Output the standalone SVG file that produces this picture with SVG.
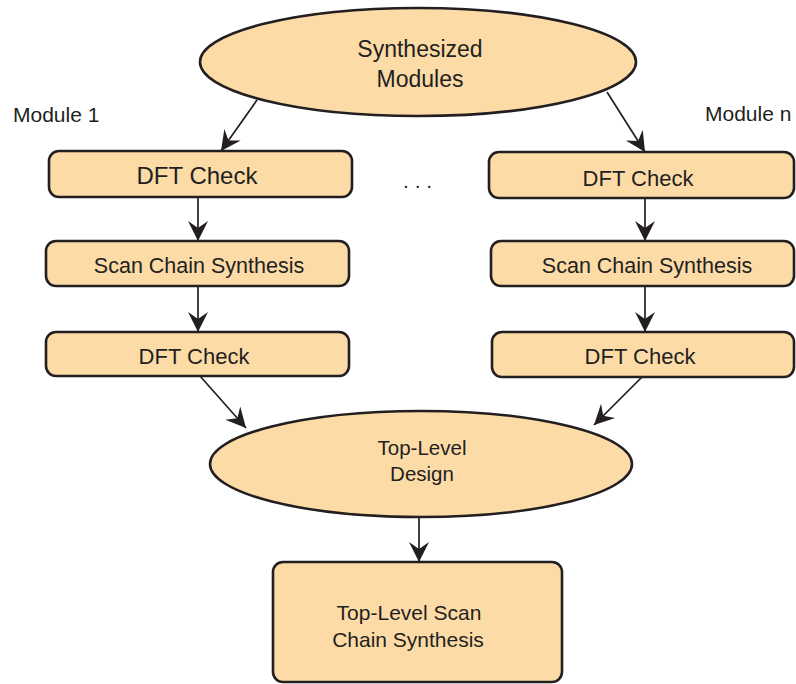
<svg xmlns="http://www.w3.org/2000/svg" width="796" height="684" viewBox="0 0 796 684">
  <style>
    .node { fill: #fcdba7; stroke: #231f20; stroke-width: 2.6; }
    .lbl { font-family: "Liberation Sans", Arial, sans-serif; fill: #231f20; text-anchor: middle; }
    .side { font-family: "Liberation Sans", Arial, sans-serif; fill: #231f20; font-size: 21px; }
    .edge { stroke: #231f20; stroke-width: 1.7; fill: none; marker-end: url(#arrow); }
  </style>
  <defs>
    <marker id="arrow" markerUnits="userSpaceOnUse" viewBox="-21 -11 22 22" refX="0" refY="0" markerWidth="22" markerHeight="22" orient="auto">
      <path d="M0,0 L-20,-10 L-13,0 L-20,10 Z" fill="#231f20"/>
    </marker>
  </defs>

  <rect width="796" height="684" fill="#ffffff"/>

  <!-- connectors -->
  <g id="connectors">
    <line class="edge" x1="257" y1="100" x2="221" y2="151"/>
    <line class="edge" x1="607" y1="92" x2="645" y2="152"/>
    <line class="edge" x1="198" y1="197" x2="198" y2="241"/>
    <line class="edge" x1="198" y1="286" x2="198" y2="332"/>
    <line class="edge" x1="645" y1="198" x2="645" y2="241"/>
    <line class="edge" x1="645" y1="286" x2="645" y2="332"/>
    <line class="edge" x1="200" y1="376" x2="246" y2="428"/>
    <line class="edge" x1="642" y1="377" x2="594" y2="425"/>
    <line class="edge" x1="419" y1="517" x2="419" y2="562"/>
  </g>

  <!-- source modules -->
  <g id="synthesized-modules">
    <ellipse class="node" cx="418" cy="62" rx="218" ry="54"/>
    <text class="lbl" x="420" y="57" font-size="23">Synthesized</text>
    <text class="lbl" x="420" y="87" font-size="23">Modules</text>
  </g>

  <text id="module-1" class="side" x="13" y="122">Module 1</text>
  <text id="module-n" class="side" x="705" y="121">Module n</text>
  <text id="ellipsis" class="side" x="403" y="188" font-size="21">. . .</text>

  <!-- module 1 column -->
  <g id="dft-check-1a">
    <rect class="node" x="49" y="151" width="303" height="46" rx="10"/>
    <text class="lbl" x="197" y="184" font-size="24">DFT Check</text>
  </g>
  <g id="scan-chain-1">
    <rect class="node" x="46" y="241" width="303" height="45" rx="10"/>
    <text class="lbl" x="199" y="273" font-size="21.5">Scan Chain Synthesis</text>
  </g>
  <g id="dft-check-1b">
    <rect class="node" x="46" y="332" width="303" height="44" rx="10"/>
    <text class="lbl" x="194" y="364" font-size="22">DFT Check</text>
  </g>

  <!-- module n column -->
  <g id="dft-check-na">
    <rect class="node" x="489" y="152" width="305" height="46" rx="10"/>
    <text class="lbl" x="638" y="186" font-size="22">DFT Check</text>
  </g>
  <g id="scan-chain-n">
    <rect class="node" x="491" y="241" width="303" height="45" rx="10"/>
    <text class="lbl" x="647" y="273" font-size="21.5">Scan Chain Synthesis</text>
  </g>
  <g id="dft-check-nb">
    <rect class="node" x="492" y="332" width="302" height="45" rx="10"/>
    <text class="lbl" x="640" y="364" font-size="22">DFT Check</text>
  </g>

  <!-- top level -->
  <g id="top-level-design">
    <ellipse class="node" cx="421" cy="464" rx="211" ry="53"/>
    <text class="lbl" x="422" y="455" font-size="20.5">Top-Level</text>
    <text class="lbl" x="422" y="481" font-size="20.5">Design</text>
  </g>
  <g id="top-level-scan">
    <rect class="node" x="273" y="562" width="289" height="120" rx="10"/>
    <text class="lbl" x="409" y="620" font-size="21">Top-Level Scan</text>
    <text class="lbl" x="408" y="647" font-size="21">Chain Synthesis</text>
  </g>
</svg>
